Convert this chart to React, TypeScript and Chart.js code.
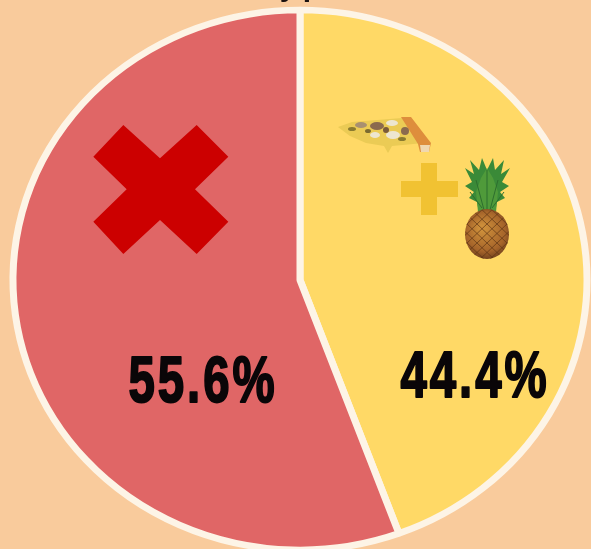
import React, { useEffect, useRef } from "react";
import { Chart, registerables } from "chart.js";

Chart.register(...registerables);

// Shares are the figures printed on the chart. The reference's painted wedge is a little
// narrower (about 43%), so its lower boundary sits about 20px to the right of the one drawn here.
const categories = ["Yes", "No"];
const shares = [44.4, 55.6];
const sliceColors = ["#FFD966", "#E06666"];
const labelAnchors = [
  { x: 475, y: 397 },
  { x: 203, y: 402 },
];

const poly = (ctx: CanvasRenderingContext2D, pts: number[][], fill: string) => {
  ctx.beginPath();
  pts.forEach((p, i) => (i ? ctx.lineTo(p[0], p[1]) : ctx.moveTo(p[0], p[1])));
  ctx.closePath();
  ctx.fillStyle = fill;
  ctx.fill();
};

const drawCross = (ctx: CanvasRenderingContext2D) => {
  const z = [[130,45],[240,145],[350,45],[445,140],[345,238],[445,335],[350,432],[240,330],[130,432],[40,335],[140,238],[40,140]];
  poly(ctx, z.map(([x, y]) => [80 + x / 3, 110 + y / 3]), "#CC0000");
};

const drawPlus = (ctx: CanvasRenderingContext2D) => {
  ctx.fillStyle = "#F1C232";
  ctx.fillRect(401, 181, 57, 16);
  ctx.fillRect(421, 163, 16, 52);
};

const drawPizza = (ctx: CanvasRenderingContext2D) => {
  poly(ctx, [[338,127],[352,122],[402,118],[424,143],[392,146],[388,153],[384,146],[366,143],[350,136]], "#EBCB55");
  poly(ctx, [[401,117],[411,117],[431,143],[429,152],[420,152],[418,144]], "#DE8E3C");
  poly(ctx, [[420,145],[430,145],[429,152],[421,152]], "#F0D8B0");
  const tops: any[] = [[361,125,6,3,"#A89070"],[377,126,7,4,"#8B6A4E"],[392,123,6,3,"#EDE6D0"],[375,135,5,3,"#EDE6D0"],[393,135,7,4,"#EDE6D0"],[405,131,4,4,"#8B6A4E"],[352,129,4,2,"#8A7A30"],[386,130,3,3,"#7A5A3A"],[368,131,3,2,"#7A6A30"],[402,139,4,2,"#8A7A30"]];
  tops.forEach((t) => {
    ctx.beginPath();
    ctx.ellipse(t[0], t[1], t[2], t[3], 0, 0, Math.PI * 2);
    ctx.fillStyle = t[4];
    ctx.fill();
  });
};

const drawPineapple = (ctx: CanvasRenderingContext2D) => {
  poly(ctx, [[465,168],[474,174],[470,160],[479,170],[482,158],[487,170],[493,158],[495,170],[504,160],[501,174],[510,168],[502,182],[509,186],[500,192],[505,198],[497,202],[495,212],[479,212],[477,202],[469,198],[474,192],[465,186],[472,182]], "#3A8A38");
  poly(ctx, [[478,212],[476,192],[481,178],[487,168],[493,178],[498,192],[496,212]], "#4F9A3A");
  ctx.strokeStyle = "#2D6E2E";
  ctx.lineWidth = 1;
  [[487,210,487,170],[484,210,476,180],[490,210,498,180],[482,208,470,192],[492,208,504,192]].forEach((l) => {
    ctx.beginPath();
    ctx.moveTo(l[0], l[1]);
    ctx.lineTo(l[2], l[3]);
    ctx.stroke();
  });
  const g = ctx.createRadialGradient(482, 228, 3, 487, 233, 27);
  g.addColorStop(0, "#CC8E3A");
  g.addColorStop(0.7, "#A5642A");
  g.addColorStop(1, "#6E3F1C");
  ctx.beginPath();
  ctx.ellipse(487, 234, 22, 25, 0, 0, Math.PI * 2);
  ctx.fillStyle = g;
  ctx.fill();
  ctx.save();
  ctx.clip();
  ctx.strokeStyle = "rgba(90,50,20,0.65)";
  ctx.lineWidth = 1;
  for (let d = -60; d <= 60; d += 10) {
    ctx.beginPath();
    ctx.moveTo(487 + d - 30, 205);
    ctx.lineTo(487 + d + 30, 262);
    ctx.moveTo(487 + d + 30, 205);
    ctx.lineTo(487 + d - 30, 262);
    ctx.stroke();
  }
  ctx.restore();
};

const squash = 270 / 287;
const ellipsePlugin = {
  id: "ellipse",
  beforeDatasetsDraw(chart: Chart) {
    const { ctx } = chart;
    const arc = chart.getDatasetMeta(0).data[0] as any;
    ctx.save();
    ctx.translate(0, 280);
    ctx.scale(1, squash);
    ctx.translate(0, -arc.y);
  },
  afterDatasetsDraw(chart: Chart) {
    const { ctx } = chart;
    ctx.restore();
    ctx.save();
    drawCross(ctx);
    drawPlus(ctx);
    drawPizza(ctx);
    drawPineapple(ctx);
    ctx.fillStyle = "#1A1210";
    ctx.font = "bold 30px 'Liberation Sans', sans-serif";
    ctx.textAlign = "center";
    ctx.fillText("y", 288, -4);
    ctx.fillText("p", 312, -4);
    ctx.font = 'bold 64px "Liberation Sans", sans-serif';
    ctx.textBaseline = "alphabetic";
    ctx.fillStyle = "#0A0608";
    ctx.strokeStyle = "#0A0608";
    ctx.lineWidth = 2;
    ctx.lineJoin = "round";
    (ctx as any).letterSpacing = "4px";
    shares.forEach((v, i) => {
      const t = v.toFixed(1) + "%";
      ctx.save();
      ctx.translate(labelAnchors[i].x, labelAnchors[i].y);
      ctx.scale(0.74, 1);
      ctx.fillText(t, 0, 0);
      ctx.strokeText(t, 0, 0);
      ctx.restore();
    });
    (ctx as any).letterSpacing = "0px";
    ctx.restore();
  },
};

export default function App() {
  const ref = useRef<HTMLCanvasElement>(null);
  useEffect(() => {
    const chart = new Chart(ref.current!, {
      type: "pie",
      data: {
        labels: categories,
        datasets: [
          {
            data: shares,
            backgroundColor: sliceColors,
            borderColor: "#FDF4E6",
            borderWidth: 7,
            radius: 287,
            hoverOffset: 0,
          },
        ],
      },
      options: {
        responsive: false,
        animation: false,
        layout: { padding: { left: 9 } },
        plugins: { legend: { display: false }, tooltip: { enabled: false }, title: { display: false } },
      },
      plugins: [ellipsePlugin],
    });
    return () => chart.destroy();
  }, []);
  return (
    <div style={{ position: "fixed", inset: 0, overflow: "hidden", background: "#F9CB9C" }}>
      <canvas ref={ref} width={591} height={600} style={{ display: "block", filter: "blur(0.5px)" }} />
    </div>
  );
}
